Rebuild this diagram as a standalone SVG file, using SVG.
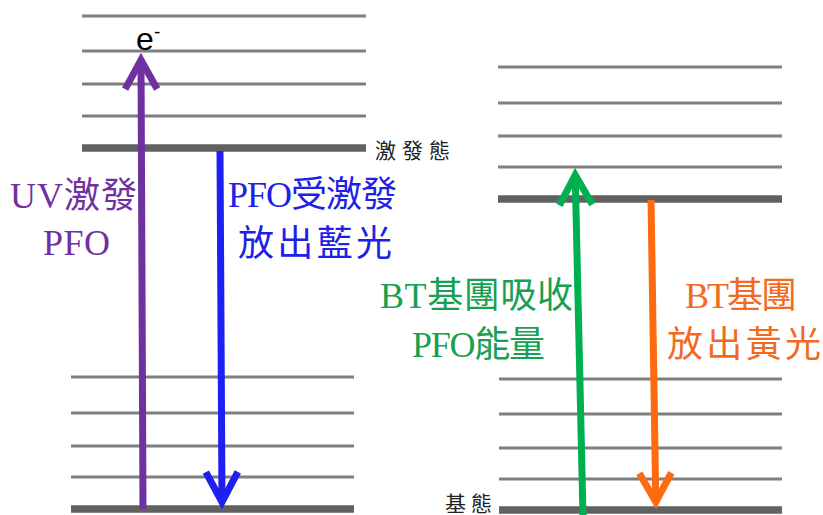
<svg xmlns="http://www.w3.org/2000/svg" width="823" height="515" viewBox="0 0 823 515">
<style>
.thin{stroke:#7f7f7f;stroke-width:3.2;fill:none}
.thick{stroke:#616161;stroke-width:7.5;fill:none}
.arr{fill:none;stroke-width:7}
.lbl{font-family:"Liberation Serif","Noto Sans CJK TC",serif;font-size:36px}
.small{font-family:"Liberation Serif","Noto Sans CJK TC",serif;font-size:21px;fill:#222}
</style>
<defs>
<marker id="hPurple" viewBox="-40 -24 48 48" markerWidth="48" markerHeight="48" refX="0" refY="0" markerUnits="userSpaceOnUse" orient="auto"><path d="M-29,-16 L0,0 L-29,16" fill="none" stroke="#7030a0" stroke-width="7"/></marker>
<marker id="hBlue" viewBox="-40 -24 48 48" markerWidth="48" markerHeight="48" refX="0" refY="0" markerUnits="userSpaceOnUse" orient="auto"><path d="M-30,-16 L0,0 L-30,16" fill="none" stroke="#1f1ff0" stroke-width="7"/></marker>
<marker id="hGreen" viewBox="-40 -24 48 48" markerWidth="48" markerHeight="48" refX="0" refY="0" markerUnits="userSpaceOnUse" orient="auto"><path d="M-30,-16.5 L0,0 L-30,16.5" fill="none" stroke="#00b050" stroke-width="7"/></marker>
<marker id="hOrange" viewBox="-40 -24 48 48" markerWidth="48" markerHeight="48" refX="0" refY="0" markerUnits="userSpaceOnUse" orient="auto"><path d="M-29,-16 L0,0 L-29,16" fill="none" stroke="#ff6a10" stroke-width="7"/></marker>
</defs>
<rect width="823" height="515" fill="#ffffff"/>
<g id="levels-left">
<path class="thin" d="M82,16H366M82,51H366M82,84H366M82,116H366"/>
<path class="thick" d="M82,148H366"/>
<path class="thin" d="M71,377H354M71,413H354M71,446H354M71,477H354"/>
<path class="thick" d="M71,509H354"/>
</g>
<g id="levels-right">
<path class="thin" d="M498,67H782M498,103H782M498,136H782M498,167H782"/>
<path class="thick" d="M498,199H782"/>
<path class="thin" d="M499,379H782M499,414H782M499,448H782M499,479H782"/>
<path class="thick" d="M499,510H782"/>
</g>
<g id="connectors">
<path class="arr" stroke="#7030a0" d="M143,509 L141,60" marker-end="url(#hPurple)"/>
<path class="arr" stroke="#1f1ff0" d="M220,151 L222,502" marker-end="url(#hBlue)"/>
<path class="arr" stroke="#00b050" d="M583,516 L575.2,175" marker-end="url(#hGreen)"/>
<path class="arr" stroke="#ff6a10" d="M651,200 L655.8,502" marker-end="url(#hOrange)"/>
</g>
<g id="electron">
<text x="136" y="50" font-family="Liberation Sans, sans-serif" font-size="32" fill="#000">e</text>
<text x="154" y="38" font-family="Liberation Sans, sans-serif" font-size="19" fill="#000">-</text>
</g>
<g id="state-labels">
<text class="small" x="375" y="158" textLength="75" lengthAdjust="spacing">激發態</text>
<text class="small" x="445" y="511" textLength="47" lengthAdjust="spacing">基態</text>
</g>
<g id="label-uv" fill="#7030a0">
<text class="lbl" x="10" y="208" textLength="127" lengthAdjust="spacing">UV激發</text>
<text class="lbl" x="43" y="255" textLength="67" lengthAdjust="spacing">PFO</text>
</g>
<g id="label-pfo" fill="#2020e6">
<text class="lbl" x="228" y="207" textLength="169" lengthAdjust="spacing">PFO受激發</text>
<text class="lbl" x="238" y="256" textLength="154" lengthAdjust="spacing">放出藍光</text>
</g>
<g id="label-bt-absorb" fill="#17a050">
<text class="lbl" x="380" y="308" textLength="193" lengthAdjust="spacing">BT基團吸收</text>
<text class="lbl" x="412" y="357" textLength="133" lengthAdjust="spacing">PFO能量</text>
</g>
<g id="label-bt-emit" fill="#f26a1e">
<text class="lbl" x="685" y="308" textLength="112" lengthAdjust="spacing">BT基團</text>
<text class="lbl" x="667" y="357" textLength="154" lengthAdjust="spacing">放出黃光</text>
</g>
</svg>
